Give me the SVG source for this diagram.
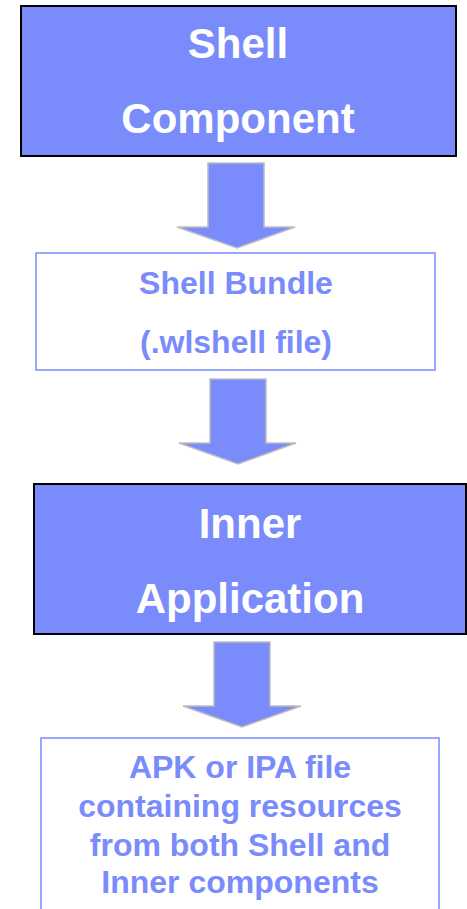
<svg xmlns="http://www.w3.org/2000/svg" width="467" height="909" viewBox="0 0 467 909">
<style>
.t{font-family:"Liberation Sans",Arial,sans-serif;font-weight:bold;text-anchor:middle}
.big{font-size:42px;fill:#ffffff}
.mid{font-size:32px;fill:#7a8bfb}
.solid{fill:#7a8bfb;stroke:#000;stroke-width:2}
.open{fill:#fff;stroke:#7a8bfb;stroke-width:1.5}
.arrow{fill:#7a8bfb;stroke:#bdbdbd;stroke-width:1.5;stroke-linejoin:miter}
</style>
<rect width="467" height="909" fill="#fff"/>
<g id="shell-component">
<rect class="solid" x="21" y="6" width="435" height="150"/>
<text class="t big" x="238" y="58">Shell</text>
<text class="t big" x="238" y="133">Component</text>
</g>
<g id="shell-bundle">
<rect class="open" x="36" y="253" width="399" height="117"/>
<text class="t mid" x="236" y="294">Shell Bundle</text>
<text class="t mid" x="236" y="353">(.wlshell file)</text>
</g>
<g id="inner-application">
<rect class="solid" x="34" y="484" width="432" height="150"/>
<text class="t big" x="250" y="538">Inner</text>
<text class="t big" x="250" y="613">Application</text>
</g>
<g id="apk-ipa">
<rect class="open" x="41" y="738" width="398" height="180"/>
<text class="t mid" x="240" y="778">APK or IPA file</text>
<text class="t mid" x="240" y="817">containing resources</text>
<text class="t mid" x="240" y="856">from both Shell and</text>
<text class="t mid" x="240" y="893">Inner components</text>
</g>
<g id="connectors">
<path class="arrow" d="M208,163 H264 V227 H295 L237,248 L177,227 H208 Z"/>
<path class="arrow" d="M210,379 H266 V443 H296 L238,464 L179,443 H210 Z"/>
<path class="arrow" d="M214,642 H270 V706 H301 L242,727 L183,706 H214 Z"/>
</g>
</svg>
